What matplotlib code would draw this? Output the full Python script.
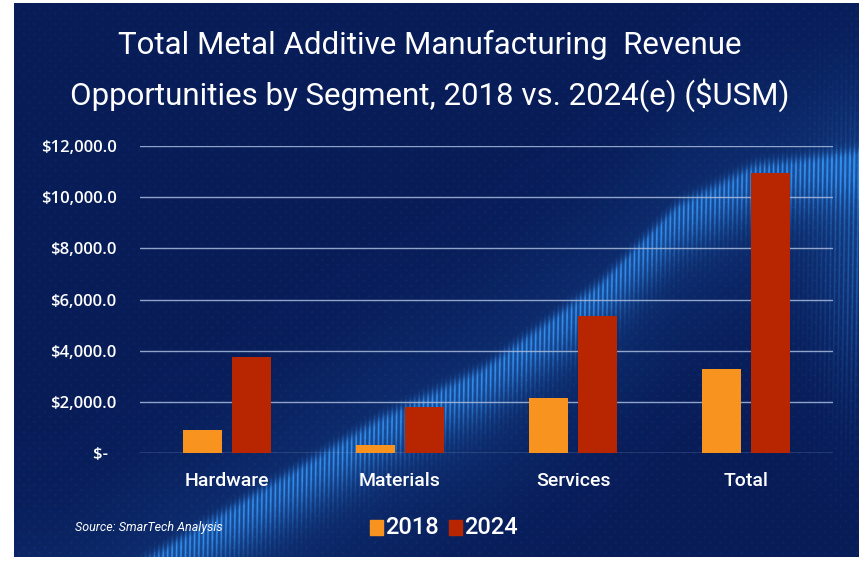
import numpy as np
import matplotlib
matplotlib.use("Agg")
from matplotlib import pyplot as plt
from matplotlib.patches import Rectangle

# Revenue by segment ($USM)
segments = ["Hardware", "Materials", "Services", "Total"]
rev_2018 = [900, 310, 2160, 3290]
rev_2024 = [3760, 1780, 5370, 10950]
y_ticks = [0, 2000, 4000, 6000, 8000, 10000, 12000]
y_labels = ["$-  ", "$2,000.0", "$4,000.0", "$6,000.0", "$8,000.0", "$10,000.0", "$12,000.0"]

ORANGE = "#F7931E"
RED = "#B72600"
FONT = ["Roboto", "DejaVu Sans"]
W, H = 859, 563

fig = plt.figure(figsize=(W / 100, H / 100), dpi=100, facecolor="white")

# dark navy backdrop with a glowing wave streak
bg = fig.add_axes([14 / W, 6 / H, (W - 14) / W, (H - 9) / H])
xx, yy = np.meshgrid(np.arange(W, dtype=float), np.arange(H, dtype=float))
cx = [60, 180, 289, 380, 483, 600, 677, 755, 860]
cy = [620, 545, 480, 425, 375, 290, 212, 172, 158]
d = yy - np.interp(xx, cx, cy)
glow = np.where(d < 0, np.exp(-(d / 10) ** 2), np.exp(-(d / 42) ** 2))
haze = np.exp(-((d - 20) / 120) ** 2) * 0.14
ripple = 0.3 + 0.7 * (0.5 + 0.5 * np.sin(xx * 1.4 + d * 0.02)) ** 2
side = np.exp(-((xx - 875) / 55) ** 2) * np.exp(-((yy - 260) / 130) ** 2) * 0.55
dots = 0.05 * (np.sin(xx * 0.6) * np.sin(yy * 0.6) > 0.7)
inten = np.clip(glow * ripple * 0.9 + haze + side * ripple + dots, 0, 1)
base = np.array([8, 28, 88]) / 255
bright = np.array([48, 140, 235]) / 255
img = base + inten[..., None] * (bright - base)
bg.imshow(img, extent=(0, W, H, 0), aspect="auto", interpolation="bilinear")
bg.set_xlim(14, W)
bg.set_ylim(H - 6, 3)
bg.axis("off")

ax = fig.add_axes([140 / W, (H - 453) / H, 693 / W, 307 / H])
ax.patch.set_alpha(0)

x = np.arange(len(segments))
off, bw = 0.142, 0.225
ax.bar(x - off, rev_2018, bw, color=ORANGE, zorder=3, label="2018")
ax.bar(x + off, rev_2024, bw, color=RED, zorder=3, label="2024")

ax.set_xlim(-0.5, 3.5)
ax.set_ylim(0, 12000)
ax.set_yticks(y_ticks, y_labels)
ax.set_xticks(x, segments)
ax.grid(axis="y", color="#a9bbdc", linewidth=1, alpha=0.85, zorder=0)
ax.tick_params(length=0)
ax.tick_params(axis="y", pad=17, labelcolor="white", labelsize=12)
ax.tick_params(axis="x", pad=14, labelcolor="white", labelsize=14)
for lbl in ax.get_yticklabels():
    lbl.set_family(["Open Sans", "DejaVu Sans"])
    lbl.set_weight("semibold")
for lbl in ax.get_xticklabels():
    lbl.set_family(FONT)
    lbl.set_weight("medium")
for s in ax.spines.values():
    s.set_visible(False)

fig.text(0.5, 1 - 45 / H, "Total Metal Additive Manufacturing  Revenue",
         ha="center", va="center", color="white", fontsize=22.5, family=FONT)
fig.text(0.5, 1 - 95 / H, "Opportunities by Segment, 2018 vs. 2024(e) ($USM)",
         ha="center", va="center", color="white", fontsize=22.5, family=FONT)

fig.text(75 / W, 1 - 527 / H, "Source: SmarTech Analysis", ha="left", va="center",
         color="white", fontsize=9, style="italic", family=FONT)

# legend: coloured squares followed by year labels
for (x0, col, txt) in [(370, ORANGE, "2018"), (449, RED, "2024")]:
    fig.patches.append(Rectangle((x0 / W, 1 - 535 / H), 13 / W, 15 / H,
                                 transform=fig.transFigure, color=col))
    fig.text((x0 + 15) / W, 1 - 527 / H, txt, ha="left", va="center",
             color="white", fontsize=17, family=FONT, weight="medium")

fig.savefig("out.png", dpi=100, facecolor="white")
